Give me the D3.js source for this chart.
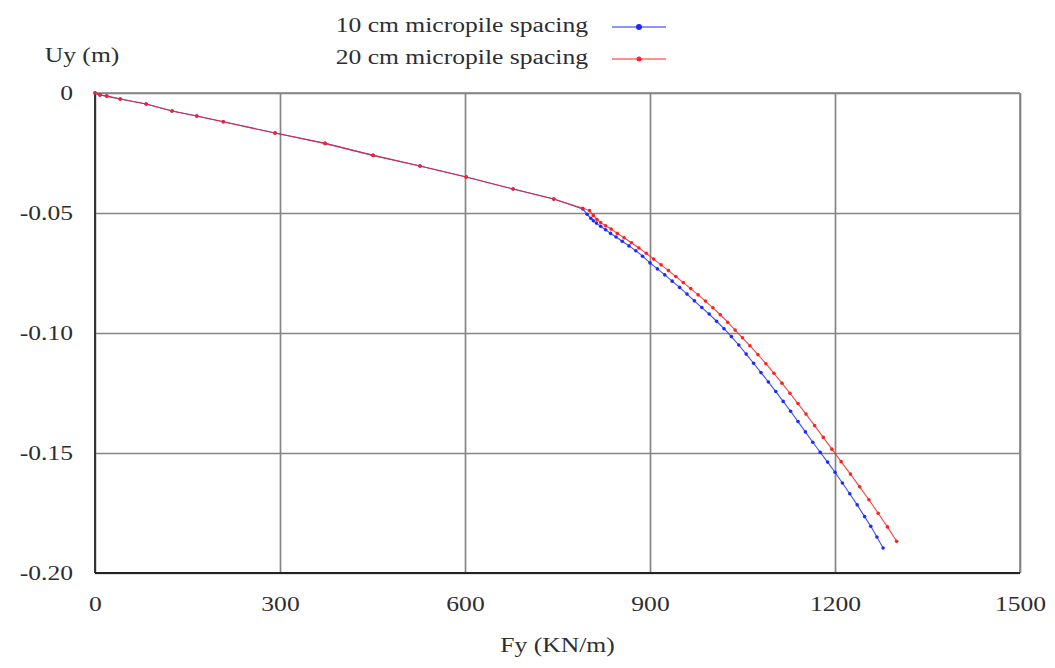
<!DOCTYPE html>
<html>
<head>
<meta charset="utf-8">
<script src="https://cdn.jsdelivr.net/npm/d3@7"></script>
<style>
body { margin: 0; background: #fff; }
svg { display: block; }
</style>
</head>
<body>
<script>
const WIDTH_SVG = 1055;
const HEIGHT_SVG = 668;

// data
const xTicks = [0, 300, 600, 900, 1200, 1500];
const yTicks = [0, -0.05, -0.10, -0.15, -0.20];
const seriesNames = ["10 cm micropile spacing", "20 cm micropile spacing"];

const blueF = [0, 8, 19, 41, 83, 125, 165, 208, 292, 373, 451, 527, 602, 678, 744, 791,
    798, 804, 808, 813, 820, 828, 836, 845, 855, 866, 877, 888, 900, 912, 924, 936, 948,
    960, 972, 984, 996, 1008, 1020, 1032, 1044, 1056, 1068, 1080, 1092, 1104, 1116, 1128,
    1140, 1152, 1164, 1176, 1188, 1200, 1212, 1224, 1236, 1248, 1258, 1268, 1278];
const blueU = [0, -0.0008, -0.0013, -0.0025, -0.0046, -0.0075, -0.0096, -0.012, -0.0167, -0.021,
    -0.026, -0.0304, -0.035, -0.040, -0.0442, -0.0483,
    -0.0505, -0.0522, -0.0532, -0.0542, -0.0555, -0.0570, -0.0585, -0.0600, -0.0618, -0.0637,
    -0.0657, -0.0680, -0.0708, -0.0733, -0.0758, -0.0784, -0.0810, -0.0838, -0.0866, -0.0894,
    -0.0921, -0.0951, -0.0982, -0.1015, -0.1050, -0.1088, -0.1126, -0.1165, -0.1204, -0.1244,
    -0.1285, -0.1326, -0.1369, -0.1412, -0.1455, -0.1497, -0.1538, -0.1580, -0.1625, -0.1670,
    -0.1716, -0.1765, -0.1805, -0.1850, -0.1896];

const redF = [0, 8, 19, 41, 83, 125, 165, 208, 292, 373, 451, 527, 602, 678, 744, 791,
    802, 808, 814, 820, 828, 837, 847, 858, 870, 882, 894, 906, 918, 930, 942, 954, 966, 978,
    990, 1002, 1014, 1026, 1038, 1050, 1062, 1075, 1088, 1101, 1114, 1127, 1140, 1153, 1167,
    1181, 1195, 1210, 1225, 1240, 1255, 1270, 1285, 1300];
const redU = [0, -0.0008, -0.0013, -0.0025, -0.0046, -0.0075, -0.0096, -0.012, -0.0167, -0.021,
    -0.026, -0.0304, -0.035, -0.040, -0.0442, -0.0480,
    -0.0490, -0.0510, -0.0527, -0.0540, -0.0553, -0.0567, -0.0585, -0.0603, -0.0624, -0.0646,
    -0.0668, -0.0692, -0.0716, -0.0740, -0.0765, -0.0790, -0.0815, -0.0841, -0.0867, -0.0895,
    -0.0924, -0.0955, -0.0988, -0.1020, -0.1053, -0.1090, -0.1128, -0.1168, -0.1209, -0.1251,
    -0.1294, -0.1338, -0.1386, -0.1435, -0.1484, -0.1536, -0.1588, -0.1641, -0.1695, -0.1751,
    -0.1808, -0.1868];

const PLOT_LEFT = 95;
const PLOT_RIGHT = 1020;
const PLOT_TOP = 93;
const PLOT_BOTTOM = 573;
const FONT = "Liberation Serif, Times New Roman, serif";
const FONT_SIZE = 20;
const TEXT_STRETCH = 1.28;   // the figure is stretched sideways
const TEXT_COLOR = "#2e2e2e";

const svg = d3.select("body")
    .append("svg")
        .attr("width", WIDTH_SVG)
        .attr("height", HEIGHT_SVG);

const x = d3.scaleLinear().domain([0, 1500]).range([PLOT_LEFT, PLOT_RIGHT]);
const y = d3.scaleLinear().domain([-0.2, 0]).range([PLOT_BOTTOM, PLOT_TOP]);

function addText(px, py, str, anchor) {
    return svg.append("text")
        .attr("transform", `translate(${px},${py}) scale(${TEXT_STRETCH},1)`)
        .attr("text-anchor", anchor)
        .attr("font-family", FONT)
        .attr("font-size", FONT_SIZE)
        .attr("fill", TEXT_COLOR)
        .text(str);
}

// grid + tick labels
const xAxis = svg.append("g")
    .attr("transform", `translate(0,${PLOT_BOTTOM})`)
    .call(d3.axisBottom(x)
        .tickValues(xTicks)
        .tickSize(-(PLOT_BOTTOM - PLOT_TOP))
        .tickPadding(24)
        .tickFormat(d3.format("d")));

const yAxis = svg.append("g")
    .attr("transform", `translate(${PLOT_LEFT},0)`)
    .call(d3.axisLeft(y)
        .tickValues(yTicks)
        .tickSize(-(PLOT_RIGHT - PLOT_LEFT))
        .tickPadding(22)
        .tickFormat(d => d === 0 ? "0" : d.toFixed(2)));

[xAxis, yAxis].forEach(ax => {
    ax.select(".domain").remove();
    ax.selectAll(".tick line")
        .attr("stroke", "#858585")
        .attr("stroke-width", 1.7);
    ax.selectAll(".tick text")
        .attr("font-family", FONT)
        .attr("font-size", FONT_SIZE)
        .attr("fill", TEXT_COLOR);
});
xAxis.selectAll(".tick text")
    .attr("transform", `scale(${TEXT_STRETCH},1)`);
yAxis.selectAll(".tick text")
    .attr("x", -22 / TEXT_STRETCH)
    .attr("transform", `scale(${TEXT_STRETCH},1)`);

// frame: top/right light, left/bottom dark
svg.append("line")
    .attr("x1", PLOT_LEFT).attr("x2", PLOT_RIGHT)
    .attr("y1", PLOT_TOP).attr("y2", PLOT_TOP)
    .attr("stroke", "#858585").attr("stroke-width", 1.7);
svg.append("line")
    .attr("x1", PLOT_RIGHT).attr("x2", PLOT_RIGHT)
    .attr("y1", PLOT_TOP).attr("y2", PLOT_BOTTOM)
    .attr("stroke", "#858585").attr("stroke-width", 1.7);
svg.append("line")
    .attr("x1", PLOT_LEFT).attr("x2", PLOT_LEFT)
    .attr("y1", PLOT_TOP).attr("y2", PLOT_BOTTOM)
    .attr("stroke", "#333").attr("stroke-width", 2);
svg.append("line")
    .attr("x1", PLOT_LEFT).attr("x2", PLOT_RIGHT)
    .attr("y1", PLOT_BOTTOM).attr("y2", PLOT_BOTTOM)
    .attr("stroke", "#222").attr("stroke-width", 2);

// series
const series = [
    { name: seriesNames[0], F: blueF, U: blueU, color: "#1a2bff" },
    { name: seriesNames[1], F: redF, U: redU, color: "#ff2020" }
];

const line = d3.line()
    .x(d => x(d[0]))
    .y(d => y(d[1]));

series.forEach(s => {
    const pts = s.F.map((f, i) => [f, s.U[i]]);
    svg.append("path")
        .datum(pts)
        .attr("fill", "none")
        .attr("stroke", s.color)
        .attr("stroke-width", 1.1)
        .attr("opacity", 0.85)
        .attr("d", line);
    svg.append("g")
        .selectAll("circle")
        .data(pts)
        .join("circle")
            .attr("cx", d => x(d[0]))
            .attr("cy", d => y(d[1]))
            .attr("r", 1.8)
            .attr("fill", s.color);
});

// legend
const LEGEND_TEXT_X = 588;
const LEGEND_Y = [32, 64];
series.forEach((s, i) => {
    addText(LEGEND_TEXT_X, LEGEND_Y[i], s.name, "end");
    const ly = LEGEND_Y[i] - 5;
    svg.append("line")
        .attr("x1", 612).attr("x2", 666)
        .attr("y1", ly).attr("y2", ly)
        .attr("stroke", s.color).attr("stroke-width", 1.2);
    svg.append("circle")
        .attr("cx", 639).attr("cy", ly)
        .attr("r", i === 0 ? 3 : 2.5)
        .attr("fill", s.color);
});

// axis titles
addText(82, 62, "Uy (m)", "middle");
addText((PLOT_LEFT + PLOT_RIGHT) / 2, 652, "Fy (KN/m)", "middle");
</script>
</body>
</html>
